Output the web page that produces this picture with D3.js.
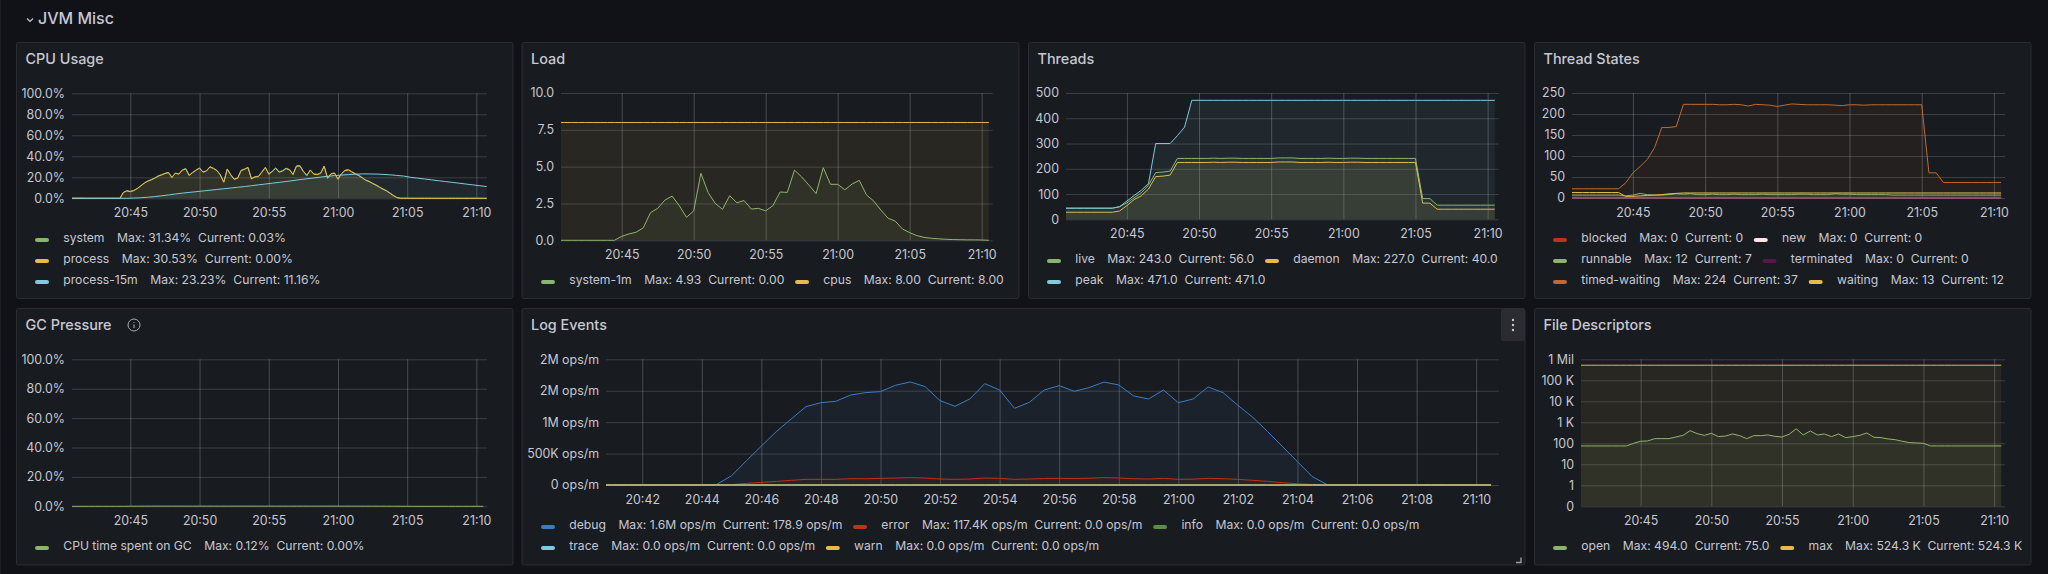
<!DOCTYPE html>
<html>
<head>
<meta charset="utf-8">
<title>JVM Misc</title>
<script src="https://cdn.jsdelivr.net/npm/d3@7"></script>
<style>
  html, body { margin: 0; padding: 0; background: #111217; }
  svg { display: block; font-family: Inter, "Noto Sans", sans-serif; }
  text { fill: #c7c8d3; }
</style>
</head>
<body>
<svg id="chart" width="2048" height="574"></svg>
<script>
// DATA
// cpu panel is sampled every 15s from 20:40:45, cpu-15m every 30s from 20:40:45
const cpuSystem = [0.1,0.1,0.1,0.1,0,0,0,0,0,0,0,0,0,0,0,5.8,7.3,6.6,7.6,9.5,12,14.6,16.5,17.8,19.3,21.3,22.5,23.8,24.8,20,24.1,23.2,27,28.4,22,24.8,27,29,25.1,26.3,30.2,28.7,26.7,22.6,15.6,28,22.6,18.4,19.4,26.7,28,29.6,18.8,20.7,21,25.2,29.6,23.3,25.8,29,25.2,26.4,28.7,27.4,22.9,30.9,31.34,25.8,22,27.1,23.3,22.9,24.2,30.8,19.4,23.6,24.2,18.4,23.6,26.7,27.4,25.4,23.6,22,19.8,17.5,16.3,14.4,12.8,10.9,9,7.4,5.2,2.9,0.9,0.2,0.1,0.1,0.05,0.05,0.05,0.04,0.04,0.04,0.04,0.03,0.03,0.03,0.03,0.03,0.03,0.03,0.03,0.03,0.03,0.03,0.03,0.03,0.03,0.03,0.03];
const cpuProcess = [0,0,0,0,0,0,0,0,0,0,0,0,0,0,0,5.5,7,6.3,7.3,9.2,11.7,14.3,16.2,17.5,19,21,22.2,23.5,24.4,19.7,23.8,22.9,26.7,28,21.6,24.4,26.7,28.6,24.8,26,29.8,28.3,26.3,22.2,15.2,27.6,22.2,18,19,26.3,27.6,29.2,18.4,20.3,20.6,24.8,29.2,22.9,25.4,28.6,24.8,26,28.3,27,22.5,30.5,30.53,25.4,21.6,26.7,22.9,22.5,23.8,30.4,19,23.2,23.8,18,23.2,26.3,27,25,23.2,21.6,19.4,17.1,15.9,14,12.4,10.5,8.6,7,4.8,2.5,0.6,0,0,0,0,0,0,0,0,0,0,0,0,0,0,0,0,0,0,0,0,0,0,0,0,0,0];
const cpu15m = [0,0,0,0,0,0,0,0,0,0.2,0.5,1,1.6,2.4,3.2,4.1,4.9,5.6,6.3,7,7.7,8.4,9.1,9.8,10.5,11.2,12,12.8,13.6,14.4,15.2,16,16.9,17.8,18.6,19.4,20.2,21,21.6,22.1,22.6,23,23.23,23.2,23.1,22.8,22.4,21.8,21.2,20,19.2,18.4,17.6,16.8,16,15.2,14.4,13.6,12.8,12,11.16];

// every series below is sampled every 30s from 20:40:30 to 21:10:30
const loadSystem1m = [0,0,0,0,0,0,0,0,0,0.27,0.43,0.55,0.85,1.88,2.17,2.73,3,2.35,1.56,2,4.55,3.25,2.5,2.1,3.03,2.55,2.7,2.12,2.17,2,2.35,3.28,3.25,4.77,4.3,3.75,3.17,4.93,3.8,3.8,3.43,3.82,4.07,3.08,2.67,2.05,1.5,1.3,0.77,0.52,0.32,0.2,0.14,0.1,0.07,0.05,0.04,0.03,0.03,0.02,0];
const loadCpus = [8,8,8,8,8,8,8,8,8,8,8,8,8,8,8,8,8,8,8,8,8,8,8,8,8,8,8,8,8,8,8,8,8,8,8,8,8,8,8,8,8,8,8,8,8,8,8,8,8,8,8,8,8,8,8,8,8,8,8,8,8];

const threadsLive = [44,44,44,44,44,44,44,44,50,65,85,105,135,185,187,191,241,241,241,241,241,242,241,242,242,241,241,241,241,241,243,243,243,241,241,241,241,242,241,241,242,242,241,241,241,241,241,241,241,241,82,82,56,56,56,56,56,56,56,56,56];
const threadsDaemon = [28,28,28,28,28,28,28,28,33,54,78,93,120,169,171,175,225,225,225,225,225,226,225,226,226,225,225,225,225,225,227,227,227,225,225,225,225,226,225,225,226,226,225,225,225,225,225,225,225,225,64,64,40,40,40,40,40,40,40,40,40];
const threadsPeak = [44,44,44,44,44,44,44,44,50,72,94,115,142,300,300,300,331,365,471,471,471,471,471,471,471,471,471,471,471,471,471,471,471,471,471,471,471,471,471,471,471,471,471,471,471,471,471,471,471,471,471,471,471,471,471,471,471,471,471,471,471];

const statesZero = [0,0,0,0,0,0,0,0,0,0,0,0,0,0,0,0,0,0,0,0,0,0,0,0,0,0,0,0,0,0,0,0,0,0,0,0,0,0,0,0,0,0,0,0,0,0,0,0,0,0,0,0,0,0,0,0,0,0,0,0,0];
const statesRunnable = [7,7,7,7,7,7,7,7,5,7,11,8,7,7,8,10,9,10,8,8,9,8,8,9,8,8,8,9,8,8,8,8,9,9,8,8,8,10,9,9,8,8,8,8,8,7,7,7,7,7,7,7,7,7,7,7,7,7,7,7,7];
const statesTimedWaiting = [22,22,22,22,22,22,22,22,36,60,75,92,120,168,168,170,223,223,223,223,223,222,222,223,222,219,223,222,221,218,221,224,223,222,222,222,222,221,220,222,222,221,222,222,222,222,222,222,222,222,60,60,37,37,37,37,37,37,37,37,37];
const statesWaiting = [13,13,13,13,13,13,13,13,4,4,5,6,7,8,10,11,12,12,12,12,12,12,12,12,12,12,12,12,12,12,12,12,12,12,12,12,12,12,12,12,12,12,12,12,12,12,12,12,12,12,12,12,12,12,12,12,12,12,12,12,12];

const gcTime = [0,0,0,0,0,0,0,0,0,0.05,0.08,0.1,0.1,0.12,0.1,0.1,0.12,0.1,0.1,0.1,0.12,0.1,0.1,0.1,0.1,0.12,0.1,0.1,0.1,0.12,0.1,0.1,0.1,0.1,0.12,0.1,0.1,0.1,0.12,0.1,0.1,0.1,0.1,0.08,0.08,0.06,0.05,0.04,0.03,0.01,0,0,0,0,0,0,0,0,0,0,0];

const logDebug = [0,0,0,0,0,0,0,0,10000,148000,387000,620000,849000,1050000,1247000,1310000,1332000,1432000,1470000,1486000,1586000,1640000,1565000,1342000,1252000,1369000,1613000,1512000,1220000,1316000,1512000,1581000,1491000,1549000,1638000,1592000,1417000,1369000,1512000,1310000,1369000,1560000,1470000,1268000,1077000,849000,610000,371000,133000,5000,300,200,200,190,190,180,180,180,180,180,178.9];
const logError = [0,0,0,0,0,0,0,0,0,5000,26000,42000,58000,74000,90000,90000,90000,100000,100000,106000,111000,117400,111000,95000,90000,95000,111000,106000,90000,95000,103000,106000,103000,108000,117400,111000,100000,95000,106000,90000,93000,106000,100000,90000,74000,58000,37000,19000,8000,0,0,0,0,0,0,0,0,0,0,0,0];
const logZero = [0,0,0,0,0,0,0,0,0,0,0,0,0,0,0,0,0,0,0,0,0,0,0,0,0,0,0,0,0,0,0,0,0,0,0,0,0,0,0,0,0,0,0,0,0,0,0,0,0,0,0,0,0,0,0,0,0,0,0,0,0];

const fdOpen = [75,75,75,75,75,75,75,75,100,125,129,167,167,167,200,240,400,289,240,299,208,223,278,232,167,232,232,249,215,200,269,494,249,387,249,278,208,278,186,208,240,310,193,186,161,149,125,108,104,100,75,75,75,75,75,75,75,75,75,75,75];
const fdMax = [524300,524300,524300,524300,524300,524300,524300,524300,524300,524300,524300,524300,524300,524300,524300,524300,524300,524300,524300,524300,524300,524300,524300,524300,524300,524300,524300,524300,524300,524300,524300,524300,524300,524300,524300,524300,524300,524300,524300,524300,524300,524300,524300,524300,524300,524300,524300,524300,524300,524300,524300,524300,524300,524300,524300,524300,524300,524300,524300,524300,524300];

// TICKS
const xTicks5m = ["20:45","20:50","20:55","21:00","21:05","21:10"];
const xTicks2m = ["20:42","20:44","20:46","20:48","20:50","20:52","20:54","20:56","20:58","21:00","21:02","21:04","21:06","21:08","21:10"];
const percentTicks = [0,20,40,60,80,100];
const loadTicks = [0,2.5,5,7.5,10];
const threadTicks = [0,100,200,300,400,500];
const stateTicks = [0,50,100,150,200,250];
const logTicks = [0,500000,1000000,1500000,2000000];
const logTickLabels = ["0 ops/m","500K ops/m","1M ops/m","2M ops/m","2M ops/m"];
const fdTicks = [0.1,1,10,100,1000,10000,100000,1000000];
const fdTickLabels = ["0","1","10","100","1 K","10 K","100 K","1 Mil"];

const GREEN="#8ab56f", YELLOW="#e6bb4c", CYAN="#7fcbdd", RED="#c0311c", WHITE="#fbe6e2", PURPLE="#54184e", ORANGE="#c06a30", BLUE="#3d7cc4", DKGREEN="#5d8a4a";

function at(h, m, s){ return new Date(2024, 0, 1, h, m, s); }
function clock(str){ const p = str.split(":"); return at(+p[0], +p[1], 0); }

const xDomain = [at(20,40,47), at(21,10,46)];
const times30 = d3.timeSecond.range(at(20,40,30), at(21,10,31), 30);
const cpuTimes15 = d3.timeSecond.range(at(20,40,45), at(21,10,46), 15);
const cpuTimes30 = d3.timeSecond.range(at(20,40,45), at(21,10,46), 30);

const svg = d3.select("#chart");
svg.append("rect").attr("width",2048).attr("height",574).attr("fill","#111217");
svg.append("rect").attr("width",1).attr("height",574).attr("fill","#1b1d22");

// header row
svg.append("path").attr("d","M27 18.5 L30 21.5 L33 18.5").attr("fill","none").attr("stroke","#c7c8d3").attr("stroke-width",1.2);
svg.append("text").attr("x",38).attr("y",24).attr("font-size",16).attr("font-weight",500).attr("fill","#d3d4de").text("JVM Misc");

let clipId = 0;

function drawPanel(p){
    const g = svg.append("g");
    g.append("rect")
        .attr("x",p.box[0]).attr("y",p.box[1])
        .attr("width",p.box[2]-p.box[0]).attr("height",p.box[3]-p.box[1])
        .attr("rx",2).attr("fill","#181b1f").attr("stroke","#2a2c31");
    g.append("text").attr("x",p.box[0]+9).attr("y",p.box[1]+21.5)
        .attr("font-size",14.4).attr("font-weight",500).attr("fill","#d0d1dc").text(p.title);

    const x = d3.scaleTime().domain(xDomain).range([p.plot[0],p.plot[2]]);
    const y = p.yScale.range([p.plot[3],p.plot[1]]);

    // grid + labels through the axes
    const xAxis = d3.axisBottom(x).tickValues(p.xTicks.map(clock))
        .tickFormat(d3.timeFormat("%H:%M"))
        .tickSize(-(p.plot[3]-p.plot[1])).tickPadding(10);
    const yAxis = d3.axisLeft(y).tickValues(p.yTicks)
        .tickFormat((d,i)=>p.yLabels(d,i))
        .tickSize(-(p.plot[2]-p.plot[0])).tickPadding(7);
    const gx = g.append("g").attr("transform","translate(0,"+p.plot[3]+")").call(xAxis);
    const gy = g.append("g").attr("transform","translate("+p.plot[0]+",0)").call(yAxis);
    [gx,gy].forEach(a=>{
        a.select(".domain").remove();
        a.selectAll("line").attr("stroke","#ccccdc").attr("stroke-opacity",a===gx?0.27:0.2);
        a.selectAll("text").attr("font-size",12.4).attr("fill","#c7c8d3").attr("font-family","Inter, sans-serif");
    });

    clipId++;
    g.append("clipPath").attr("id","clip"+clipId).append("rect")
        .attr("x",p.plot[0]).attr("y",p.plot[1]-1)
        .attr("width",p.plot[2]-p.plot[0]).attr("height",p.plot[3]-p.plot[1]+2);
    const marks = g.append("g").attr("clip-path","url(#clip"+clipId+")");

    p.series.forEach(s=>{
        const t = s.times || times30;
        const pts = s.values.map((v,i)=>[t[i],v]);
        const base = p.yScale.domain()[0];
        marks.append("path").datum(pts)
            .attr("d",d3.area().x(d=>x(d[0])).y0(y(base)).y1(d=>y(d[1])))
            .attr("fill",s.color).attr("fill-opacity",0.08);
        marks.append("path").datum(pts)
            .attr("d",d3.line().x(d=>x(d[0])).y(d=>y(d[1])))
            .attr("fill","none").attr("stroke",s.color).attr("stroke-width",1);
    });

    // legend, one list per row
    p.legendRows.forEach((row,r)=>{
        let cx = p.legendX;
        const ly = p.legendY[r];
        row.forEach(s=>{
            g.append("rect").attr("x",cx).attr("y",ly-1.5).attr("width",14).attr("height",4).attr("rx",2).attr("fill",s.color);
            cx += 28.3;
            [[s.name,12.5],["Max: "+s.max,6.8],["Current: "+s.current,10.7]].forEach(part=>{
                const tx = g.append("text").attr("x",cx).attr("y",ly+2.9)
                    .attr("font-size",12.15).attr("fill","#c7c8d3").text(part[0]);
                cx += tx.node().getComputedTextLength()+part[1];
            });
        });
    });
    return g;
}

const tf1 = d=>d.toFixed(1), pct = d=>d.toFixed(1)+"%", int = d=>String(d);

drawPanel({
    title:"CPU Usage", box:[16.5,42.5,513,298.5], plot:[72,93.3,487,198.3],
    xTicks:xTicks5m, yScale:d3.scaleLinear().domain([0,100]), yTicks:percentTicks, yLabels:pct,
    series:[
        {values:cpuSystem,times:cpuTimes15,color:GREEN},
        {values:cpuProcess,times:cpuTimes15,color:YELLOW},
        {values:cpu15m,times:cpuTimes30,color:CYAN}],
    legendX:35, legendY:[239.5,260.5,281.5],
    legendRows:[[{name:"system",max:"31.34%",current:"0.03%",color:GREEN}],
                [{name:"process",max:"30.53%",current:"0.00%",color:YELLOW}],
                [{name:"process-15m",max:"23.23%",current:"11.16%",color:CYAN}]]
});

drawPanel({
    title:"Load", box:[522,42.5,1019,298.5], plot:[561,93,992.7,240.3],
    xTicks:xTicks5m, yScale:d3.scaleLinear().domain([0,10]), yTicks:loadTicks, yLabels:tf1,
    series:[{values:loadSystem1m,color:GREEN},{values:loadCpus,color:YELLOW}],
    legendX:541, legendY:[281.5],
    legendRows:[[{name:"system-1m",max:"4.93",current:"0.00",color:GREEN},
                 {name:"cpus",max:"8.00",current:"8.00",color:YELLOW}]]
});

drawPanel({
    title:"Threads", box:[1028.5,42.5,1525,298.5], plot:[1066,93,1498.7,219.3],
    xTicks:xTicks5m, yScale:d3.scaleLinear().domain([0,500]), yTicks:threadTicks, yLabels:int,
    series:[{values:threadsLive,color:GREEN},{values:threadsDaemon,color:YELLOW},{values:threadsPeak,color:CYAN}],
    legendX:1047, legendY:[260.5,281.5],
    legendRows:[[{name:"live",max:"243.0",current:"56.0",color:GREEN},
                 {name:"daemon",max:"227.0",current:"40.0",color:YELLOW}],
                [{name:"peak",max:"471.0",current:"471.0",color:CYAN}]]
});

drawPanel({
    title:"Thread States", box:[1534.5,42.5,2031,298.5], plot:[1572,93,2005,198],
    xTicks:xTicks5m, yScale:d3.scaleLinear().domain([0,250]), yTicks:stateTicks, yLabels:int,
    series:[{values:statesZero,color:RED},{values:statesZero,color:WHITE},
            {values:statesRunnable,color:GREEN},{values:statesTimedWaiting,color:ORANGE},
            {values:statesWaiting,color:YELLOW},{values:statesZero,color:PURPLE}],
    legendX:1553, legendY:[239.5,260.5,281.5],
    legendRows:[[{name:"blocked",max:"0",current:"0",color:RED},{name:"new",max:"0",current:"0",color:WHITE}],
                [{name:"runnable",max:"12",current:"7",color:GREEN},{name:"terminated",max:"0",current:"0",color:PURPLE}],
                [{name:"timed-waiting",max:"224",current:"37",color:ORANGE},{name:"waiting",max:"13",current:"12",color:YELLOW}]]
});

const gcPanel = drawPanel({
    title:"GC Pressure", box:[16.5,308.5,513,565], plot:[72,359.3,487,506.3],
    xTicks:xTicks5m, yScale:d3.scaleLinear().domain([0,100]), yTicks:percentTicks, yLabels:pct,
    series:[{values:gcTime,color:GREEN}],
    legendX:35, legendY:[547.5],
    legendRows:[[{name:"CPU time spent on GC",max:"0.12%",current:"0.00%",color:GREEN}]]
});
gcPanel.append("circle").attr("cx",134).attr("cy",325).attr("r",6).attr("fill","none").attr("stroke","#a8a9b3").attr("stroke-width",1);
gcPanel.append("path").attr("d","M134 322.2 V322.9 M134 324.6 V328").attr("stroke","#a8a9b3").attr("stroke-width",1.1);

const logPanel = drawPanel({
    title:"Log Events", box:[522,308.5,1525,565], plot:[606,359.3,1499,485],
    xTicks:xTicks2m, yScale:d3.scaleLinear().domain([0,2000000]), yTicks:logTicks,
    yLabels:(d,i)=>logTickLabels[i],
    series:[{values:logDebug,color:BLUE},{values:logError,color:RED},{values:logZero,color:DKGREEN},
            {values:logZero,color:CYAN},{values:logZero,color:YELLOW}],
    legendX:541, legendY:[526.5,547.5],
    legendRows:[[{name:"debug",max:"1.6M ops/m",current:"178.9 ops/m",color:BLUE},
                 {name:"error",max:"117.4K ops/m",current:"0.0 ops/m",color:RED},
                 {name:"info",max:"0.0 ops/m",current:"0.0 ops/m",color:DKGREEN}],
                [{name:"trace",max:"0.0 ops/m",current:"0.0 ops/m",color:CYAN},
                 {name:"warn",max:"0.0 ops/m",current:"0.0 ops/m",color:YELLOW}]]
});
logPanel.append("rect").attr("x",1501).attr("y",309).attr("width",24).attr("height",32).attr("rx",2).attr("fill","#2a2c31");
logPanel.selectAll(".dot").data([320,325,330]).enter().append("circle")
    .attr("cx",1513).attr("cy",d=>d).attr("r",1.2).attr("fill","#c7c8d3");
logPanel.append("path").attr("d","M1516 562.5 H1521 V557.5").attr("fill","none").attr("stroke","#9a9ba5").attr("stroke-width",1.4);

drawPanel({
    title:"File Descriptors", box:[1534.5,308.5,2031,565], plot:[1581,359.3,2005,506.3],
    xTicks:xTicks5m, yScale:d3.scaleLog().domain([0.1,1000000]), yTicks:fdTicks,
    yLabels:(d,i)=>fdTickLabels[i],
    series:[{values:fdOpen,color:GREEN},{values:fdMax,color:YELLOW}],
    legendX:1553, legendY:[547.5],
    legendRows:[[{name:"open",max:"494.0",current:"75.0",color:GREEN},
                 {name:"max",max:"524.3 K",current:"524.3 K",color:YELLOW}]]
});
</script>
</body>
</html>
